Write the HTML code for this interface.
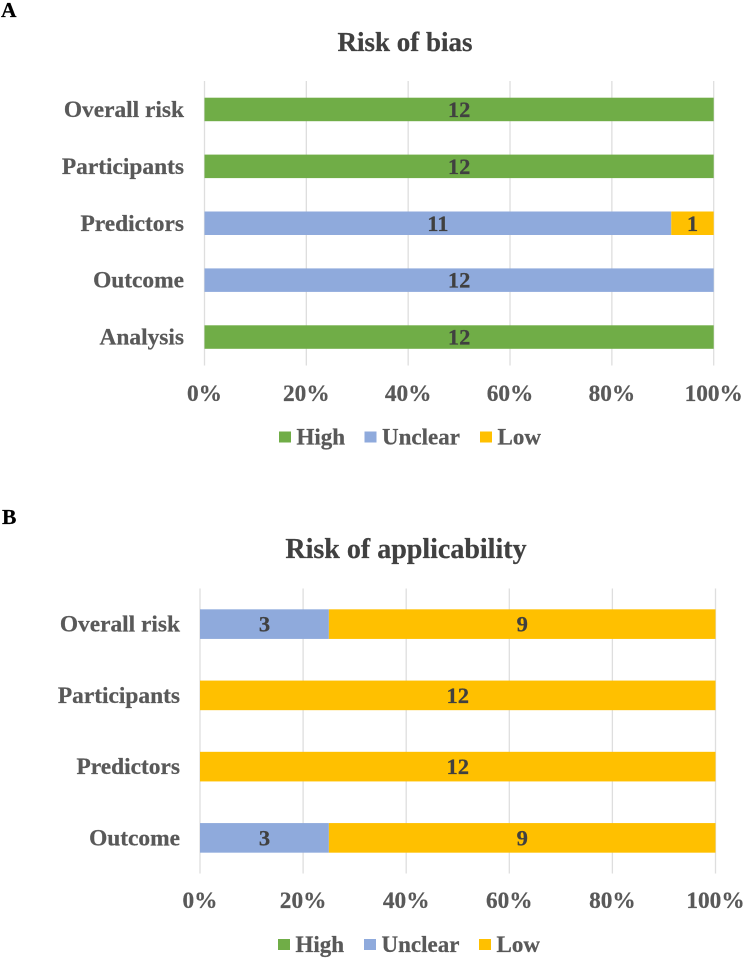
<!DOCTYPE html>
<html lang="en">
<head>
<meta charset="utf-8">
<title>Risk of bias and applicability</title>
<style>
html,body{margin:0;padding:0;background:#fff;width:744px;height:958px;overflow:hidden}
svg{display:block;font-family:"Liberation Serif",serif;font-weight:bold}
text{stroke-width:0.25px}
</style>
</head>
<body>
<svg id="figure" xmlns="http://www.w3.org/2000/svg" width="744" height="958" viewBox="0 0 744 958">
<rect width="744" height="958" fill="#fff"/>
<text x="1" y="17" font-size="21.5" fill="#000" stroke="#000">A</text>
<text x="2" y="524" font-size="21.5" fill="#000" stroke="#000">B</text>
<text x="405" y="51" font-size="27" fill="#404040" stroke="#404040" text-anchor="middle">Risk of bias</text>
<text x="406" y="558" font-size="28" fill="#404040" stroke="#404040" text-anchor="middle">Risk of applicability</text>
<g id="chart-a"></g>
<g id="chart-b"></g>
</svg>
<script>
const categoriesA = ["Overall risk", "Participants", "Predictors", "Outcome", "Analysis"];
const highA = [12, 12, 0, 0, 12];
const unclearA = [0, 0, 11, 12, 0];
const lowA = [0, 0, 1, 0, 0];
const categoriesB = ["Overall risk", "Participants", "Predictors", "Outcome"];
const highB = [0, 0, 0, 0];
const unclearB = [3, 0, 0, 3];
const lowB = [9, 12, 12, 9];
const tickValues = [0, 20, 40, 60, 80, 100];
const seriesNames = ["High", "Unclear", "Low"];

const SVG_NS = "http://www.w3.org/2000/svg";
const seriesColors = { High: "#70ad47", Unclear: "#8faadc", Low: "#ffc000" };

function make(parent, tag, attrs, text) {
  const el = document.createElementNS(SVG_NS, tag);
  for (const key in attrs) el.setAttribute(key, attrs[key]);
  if (text !== undefined) {
    el.textContent = text;
    el.setAttribute("stroke", attrs.fill);
  }
  parent.appendChild(el);
  return el;
}

function drawChart(root, cfg) {
  const xScale = pct => cfg.x0 + (cfg.x1 - cfg.x0) * pct / 100;
  const band = (cfg.plotBottom - cfg.plotTop) / cfg.categories.length;
  const yCenter = i => cfg.plotTop + band * (i + 0.5);

  tickValues.forEach(t => {
    const line = make(root, "line", { x1: xScale(t), x2: xScale(t), y1: cfg.plotTop, y2: cfg.plotBottom, stroke: "#dedede", "stroke-width": 1.3 });
    
    
    const label = make(root, "text", { x: xScale(t), y: cfg.tickY, "font-size": 23.3, fill: "#595959", "text-anchor": "middle" }, t + "%");
    
    
  });

  cfg.categories.forEach((cat, i) => {
    const label = make(root, "text", { x: cfg.labelX, y: yCenter(i) + 7.5, "font-size": 23.4, fill: "#595959", "text-anchor": "end" }, cat);
    
    

    const total = cfg.series.reduce((sum, s) => sum + s.values[i], 0);
    let cum = 0;
    cfg.series.forEach(s => {
      const v = s.values[i];
      if (v > 0) {
        const left = xScale(cum / total * 100);
        const right = xScale((cum + v) / total * 100);
        const bar = make(root, "rect", { x: left, y: yCenter(i) - cfg.barH / 2, width: right - left, height: cfg.barH, fill: seriesColors[s.name] });
        
        
        const value = make(root, "text", { x: (left + right) / 2, y: yCenter(i) + 7.5, "font-size": 22.5, fill: "#404040", "text-anchor": "middle" }, v);
        
        
      }
      cum += v;
    });
  });

  seriesNames.forEach((name, i) => {
    const swatch = make(root, "rect", { x: cfg.legendX[i], y: cfg.legendY - 13, width: 12, height: 11, fill: seriesColors[name] });
    
    
    const label = make(root, "text", { x: cfg.legendX[i] + 17.5, y: cfg.legendY, "font-size": 23, fill: "#595959" }, name);
    
    
  });
}

drawChart(document.getElementById("chart-a"), {
  categories: categoriesA,
  series: [{ name: "High", values: highA }, { name: "Unclear", values: unclearA }, { name: "Low", values: lowA }],
  x0: 204.5, x1: 713.7, plotTop: 81, plotBottom: 365.5, barH: 23.5,
  labelX: 184, tickY: 401, legendX: [279, 364.5, 480], legendY: 444.5
});
drawChart(document.getElementById("chart-b"), {
  categories: categoriesB,
  series: [{ name: "High", values: highB }, { name: "Unclear", values: unclearB }, { name: "Low", values: lowB }],
  x0: 200, x1: 715.5, plotTop: 588.5, plotBottom: 873.5, barH: 29.6,
  labelX: 180, tickY: 908, legendX: [278, 364, 479], legendY: 952
});
</script>
</body>
</html>
